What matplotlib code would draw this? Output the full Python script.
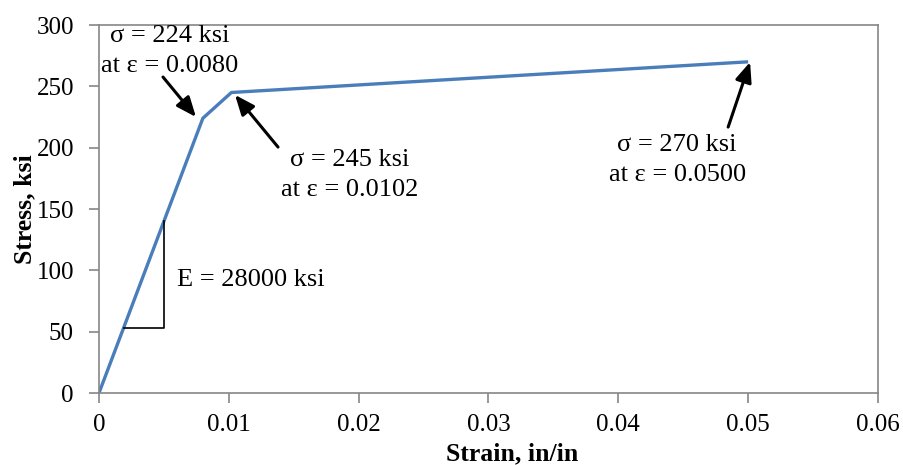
import numpy as np
import matplotlib.pyplot as plt

plt.rcParams['font.family'] = ['Liberation Serif', 'DejaVu Serif']

# stress-strain points
strain = [0.0, 0.0080, 0.0102, 0.0500]
stress = [0.0, 224, 245, 270]

# slope triangle for E
tri_strain = [0.0019, 0.0050, 0.0050]
tri_stress = [53, 53, 140]

x_ticks = [0, 0.01, 0.02, 0.03, 0.04, 0.05, 0.06]
x_labels = ['0', '0.01', '0.02', '0.03', '0.04', '0.05', '0.06']
y_ticks = [0, 50, 100, 150, 200, 250, 300]

fig = plt.figure(figsize=(9.04, 4.65), dpi=100)
ax = fig.add_axes([0.1095, 0.1548, 0.8617, 0.7914])

ax.plot(strain, stress, color='#4a7ebb', lw=2.4, solid_capstyle='butt')
ax.plot(tri_strain, tri_stress, color='black', lw=1.2)

ax.set_xlim(0, 0.06)
ax.set_ylim(0, 300)
ax.set_xticks(x_ticks)
ax.set_xticklabels(x_labels)
ax.set_yticks(y_ticks)

for s in ax.spines.values():
    s.set_color('#868686')
    s.set_linewidth(1.2)
ax.tick_params(direction='out', length=7, width=1.2, color='#868686',
               labelsize=18)
ax.tick_params(axis='y', pad=11)
ax.tick_params(axis='x', pad=8)

ax.set_xlabel('Strain, in/in', fontsize=18.5, fontweight='bold', labelpad=5)
ax.xaxis.label.set_x(0.53)
ax.set_ylabel('Stress, ksi', fontsize=18.5, fontweight='bold', labelpad=0)

arrow = dict(arrowstyle='-|>,head_length=1.2,head_width=0.5', color='black',
             lw=2.2, shrinkA=0, shrinkB=0)

# arrows: (head, tail)
ax.annotate('', xy=(0.00747, 225), xytext=(0.00493, 257.6), arrowprops=arrow)
ax.annotate('', xy=(0.01048, 243), xytext=(0.01379, 200.5), arrowprops=arrow)
ax.annotate('', xy=(0.05015, 269.8), xytext=(0.04846, 216.8), arrowprops=arrow)

fs = 19
ax.text(0.00547, 278.8, 'σ = 224 ksi\nat ε = 0.0080', ha='center', va='center',
        fontsize=fs, linespacing=1.42)
ax.text(0.01934, 177.7, 'σ = 245 ksi\nat ε = 0.0102', ha='center', va='center',
        fontsize=fs, linespacing=1.42)
ax.text(0.04453, 190, 'σ = 270 ksi\nat ε = 0.0500', ha='center', va='center',
        fontsize=fs, linespacing=1.42)
ax.text(0.0060, 92, 'E = 28000 ksi', ha='left', va='center', fontsize=fs)

fig.savefig('out.png', dpi=100)
